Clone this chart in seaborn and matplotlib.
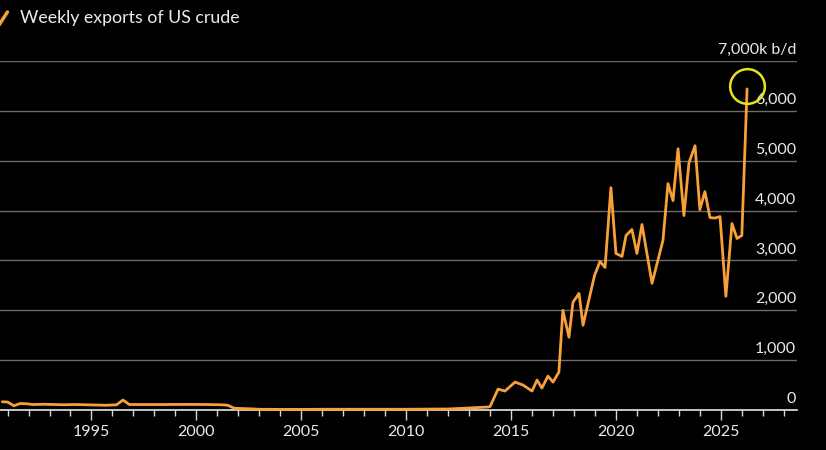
import matplotlib
matplotlib.use("Agg")
import matplotlib.pyplot as plt
import matplotlib.transforms as mtransforms
from matplotlib.lines import Line2D
import seaborn as sns
import pandas as pd

# ---- data ----
years = [1990.75, 1991.0, 1991.3, 1991.6, 1991.9, 1992.2, 1992.7, 1993.2, 1993.7,
         1994.2, 1994.7, 1995.2, 1995.7, 1996.2, 1996.5, 1996.8, 1997.5, 1998.5,
         1999.5, 2000.5, 2001.2, 2001.5, 2001.8, 2002.5, 2003.0, 2004.0, 2005.0,
         2006.0, 2007.0, 2008.0, 2009.0, 2010.0, 2011.0, 2012.0, 2013.0, 2013.9,
         2014.0, 2014.38, 2014.71, 2015.19, 2015.57, 2016.0, 2016.24, 2016.47,
         2016.76, 2017.0, 2017.28, 2017.47, 2017.76, 2017.95, 2018.24, 2018.43,
         2018.98, 2019.24, 2019.48, 2019.76, 2020.0, 2020.29, 2020.48, 2020.76,
         2021.0, 2021.24, 2021.72, 2022.24, 2022.48, 2022.72, 2022.96, 2023.24,
         2023.48, 2023.77, 2024.0, 2024.24, 2024.48, 2024.72, 2024.96, 2025.24,
         2025.53, 2025.77, 2026.0, 2026.25]
exports = [165, 160, 85, 130, 125, 110, 115, 110, 105,
           110, 105, 100, 95, 105, 200, 110, 110, 110,
           112, 110, 105, 95, 35, 25, 15, 12, 12,
           15, 15, 15, 15, 15, 18, 20, 40, 60,
           70, 420, 380, 560, 500, 380, 600, 440,
           680, 560, 760, 2000, 1460, 2160, 2340, 1700,
           2700, 2980, 2860, 4460, 3140, 3080, 3500, 3620,
           3140, 3720, 2540, 3400, 4540, 4200, 5240, 3900,
           4960, 5300, 4020, 4380, 3860, 3850, 3880, 2280,
           3740, 3440, 3500, 6440]
ytick_values = [0, 1000, 2000, 3000, 4000, 5000, 6000, 7000]
ytick_labels = ["0", "1,000", "2,000", "3,000", "4,000", "5,000", "6,000", "7,000k b/d"]
xtick_major = [1995, 2000, 2005, 2010, 2015, 2020, 2025]
xtick_minor = list(range(1991, 2029))
title = "Weekly exports of US crude"

df = pd.DataFrame({"year": years, "exports": exports})

# ---- style ----
sns.set_theme(style="dark")
plt.rcParams["font.family"] = ["Lato", "DejaVu Sans"]
BG = "#000000"
ORANGE = "#f9a03a"
TXT = "#ebebeb"
GRID = "#6b6b6b"

fig = plt.figure(figsize=(8.26, 4.5), dpi=100, facecolor=BG)
ax = fig.add_axes([0.0, 1 - 410 / 450, 797 / 826, (410 - 61) / 450])
ax.set_facecolor(BG)

sns.lineplot(data=df, x="year", y="exports", ax=ax, color=ORANGE,
             linewidth=2.0, clip_on=False, zorder=3)

# highlight circle on the latest value
ax.plot([years[-1]], [exports[-1] + 60], marker="o", ms=25, mfc="none",
        mec="#e8e21a", mew=1.8, clip_on=False, zorder=4)

ax.set_xlim(1990.64, 2028.63)
ax.set_ylim(0, 7000)

# grid lines
ax.set_yticks(ytick_values)
ax.yaxis.grid(True, color=GRID, linewidth=1.0)
ax.xaxis.grid(False)
ax.tick_params(axis="y", left=False, right=False, labelleft=False, labelright=False)

# y labels drawn inside, right aligned above each grid line
trans = mtransforms.blended_transform_factory(ax.transAxes, ax.transData)
off = mtransforms.offset_copy(trans, fig=fig, x=-1, y=4, units="dots")
for v, lab in zip(ytick_values, ytick_labels):
    ax.text(1.0, v, lab, transform=off, ha="right", va="bottom",
            color=TXT, fontsize=11.5)

# x axis
ax.set_xticks(xtick_major)
ax.set_xticklabels([str(y) for y in xtick_major])
ax.set_xticks(xtick_minor, minor=True)
ax.tick_params(axis="x", which="major", length=7, width=1, color="#d8d8d8",
               labelcolor=TXT, labelsize=11.5, pad=4, bottom=True)
ax.tick_params(axis="x", which="minor", length=4, width=1, color="#d8d8d8", bottom=True)
ax.set_xlabel("")
ax.set_ylabel("")

for s in ["top", "left", "right"]:
    ax.spines[s].set_visible(False)
ax.spines["bottom"].set_color("#e6e6e6")
ax.spines["bottom"].set_linewidth(1.2)
ax.spines["bottom"].set_zorder(2)

# title with legend glyph
fig.add_artist(Line2D([-0.002, 0.009], [1 - 26 / 450, 1 - 12 / 450],
                      color=ORANGE, linewidth=2.5))
fig.text(20 / 826, 1 - 18 / 450, title, color=TXT, fontsize=12.8,
         ha="left", va="center")

fig.savefig("out.png", dpi=100, facecolor=BG)
